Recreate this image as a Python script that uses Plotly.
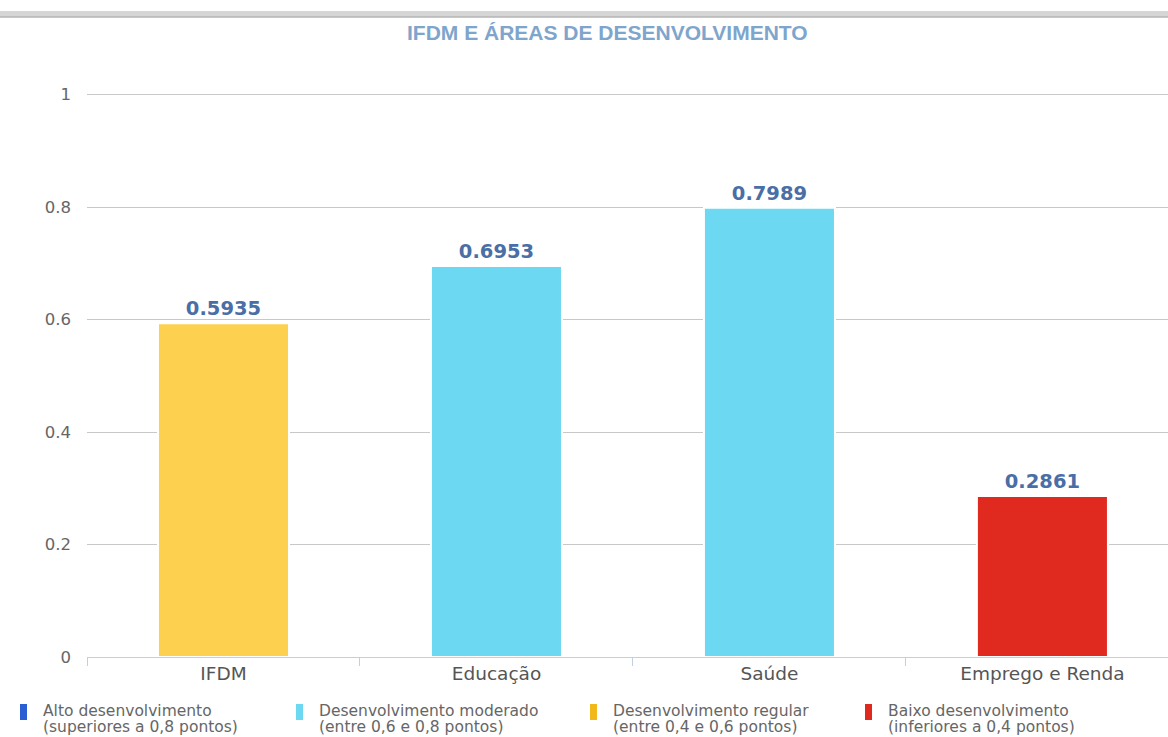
import plotly.graph_objects as go

categories = ["IFDM", "Educação", "Saúde", "Emprego e Renda"]
values = [0.5935, 0.6953, 0.7989, 0.2861]
bar_colors = ["#fed04f", "#6dd8f2", "#6dd8f2", "#e0291f"]
y_ticks = [0, 0.2, 0.4, 0.6, 0.8, 1]
y_tick_labels = ["0", "0.2", "0.4", "0.6", "0.8", "1"]
legend_line1 = ["Alto desenvolvimento", "Desenvolvimento moderado",
                "Desenvolvimento regular", "Baixo desenvolvimento"]
legend_line2 = ["(superiores a 0,8 pontos)", "(entre 0,6 e 0,8 pontos)",
                "(entre 0,4 e 0,6 pontos)", "(inferiores a 0,4 pontos)"]
legend_colors = ["#2a5fd3", "#6dd8f2", "#f2b81a", "#e0291f"]

W, H = 1168, 737
L, R, T, B = 87, 0, 93, 80
pw = W - L - R
ph = H - T - B

def px_x(x):
    return (x - L) / pw

def px_y(y):
    return (H - B - y) / ph

fig = go.Figure()
fig.add_trace(go.Bar(
    x=categories, y=values,
    marker=dict(color=bar_colors, line=dict(color="white", width=2)),
    width=0.48,
    text=[f"{v:.4f}" for v in values],
    textposition="outside",
    textfont=dict(family="DejaVu Sans", size=19.5, color="#4a6ea6"),
    texttemplate="<b>%{text}</b>",
    cliponaxis=False,
    showlegend=False,
    hoverinfo="skip",
))

shapes = [
    dict(type="rect", xref="paper", yref="paper", x0=px_x(0), x1=px_x(W),
         y0=px_y(17), y1=px_y(11), fillcolor="#d6d6d6", line=dict(width=0), layer="above"),
    dict(type="line", xref="paper", yref="paper", x0=px_x(0), x1=px_x(W),
         y0=px_y(17), y1=px_y(17), line=dict(color="#b4b4b4", width=1.5)),
]
annotations = [
    dict(text="<b>IFDM E ÁREAS DE DESENVOLVIMENTO</b>", xref="paper", yref="paper",
         x=px_x(607), y=px_y(33), xanchor="center", yanchor="middle", showarrow=False,
         font=dict(family="Liberation Sans Narrow, Arial Narrow, Liberation Sans, sans-serif",
                   size=21, color="#7fa5cc")),
]
leg_x = [20, 296, 590, 865]
for lx, l1, l2, col in zip(leg_x, legend_line1, legend_line2, legend_colors):
    shapes.append(dict(type="rect", xref="paper", yref="paper",
                       x0=px_x(lx), x1=px_x(lx + 7), y0=px_y(720), y1=px_y(704),
                       fillcolor=col, line=dict(width=0)))
    for txt, yy in ((l1, 711), (l2, 727)):
        annotations.append(dict(text=txt, xref="paper", yref="paper",
                                x=px_x(lx + 21), y=px_y(yy), xanchor="left", yanchor="middle",
                                align="left", showarrow=False,
                                font=dict(family="DejaVu Sans", size=15.5, color="#666666")))

fig.update_layout(
    width=W, height=H,
    margin=dict(l=L, r=R, t=T, b=B, pad=0),
    paper_bgcolor="white", plot_bgcolor="white",
    font=dict(family="DejaVu Sans", color="#666666"),
    xaxis=dict(
        range=[-0.5, 3.46], showgrid=False, ticks="outside", tickson="boundaries",
        ticklen=8, tickcolor="#c0d0e0", showline=True, linecolor="#c0d0e0", linewidth=1,
        tickfont=dict(size=18.5, color="#555555"), zeroline=False,
    ),
    yaxis=dict(
        range=[0, 1.003], tickvals=y_ticks, ticktext=y_tick_labels,
        showgrid=True, gridcolor="#c8c8c8", gridwidth=1, zeroline=False,
        tickfont=dict(size=16.5, color="#666666"), ticks="", ticklabelstandoff=15,
    ),
    shapes=shapes, annotations=annotations,
)

fig.write_html("out.html", post_script="document.body.style.margin='0';",
               config={"displayModeBar": False})
